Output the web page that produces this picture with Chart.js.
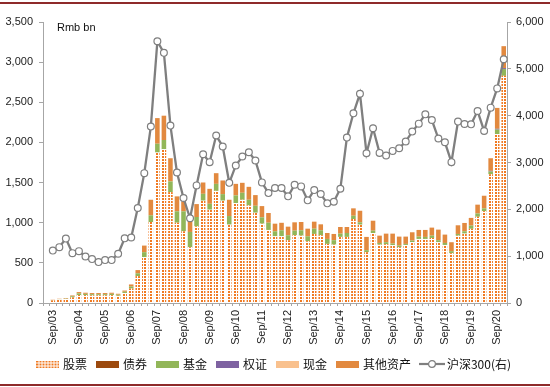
<!DOCTYPE html>
<html><head><meta charset="utf-8">
<script src="https://cdn.jsdelivr.net/npm/chart.js@4"></script>
<style>
html,body{margin:0;padding:0;background:#fff;}
#wrap{position:relative;width:550px;height:387px;overflow:hidden;}
#c{position:absolute;left:0;top:0;}
.rule{position:absolute;left:0;width:550px;height:2px;background:#8E2A2A;}
#unit{position:absolute;left:57px;top:21px;font:11px "Liberation Sans",Arial,sans-serif;color:#111;}
</style></head>
<body><div id="wrap"><canvas id="c" width="550" height="387"></canvas>
<div class="rule" style="top:2px"></div><div class="rule" style="top:384px"></div>
<div id="unit">Rmb bn</div></div>
<script>
const categories = ['Jun/03','Sep/03','Dec/03',
'Mar/04','Jun/04','Sep/04','Dec/04','Mar/05','Jun/05','Sep/05','Dec/05',
'Mar/06','Jun/06','Sep/06','Dec/06','Mar/07','Jun/07','Sep/07','Dec/07',
'Mar/08','Jun/08','Sep/08','Dec/08','Mar/09','Jun/09','Sep/09','Dec/09',
'Mar/10','Jun/10','Sep/10','Dec/10','Mar/11','Jun/11','Sep/11','Dec/11',
'Mar/12','Jun/12','Sep/12','Dec/12','Mar/13','Jun/13','Sep/13','Dec/13',
'Mar/14','Jun/14','Sep/14','Dec/14','Mar/15','Jun/15','Sep/15','Dec/15',
'Mar/16','Jun/16','Sep/16','Dec/16','Mar/17','Jun/17','Sep/17','Dec/17',
'Mar/18','Jun/18','Sep/18','Dec/18','Mar/19','Jun/19','Sep/19','Dec/19',
'Mar/20','Jun/20','Sep/20','Dec/20'];

// Rmb bn (left axis)
const stocks = [null,32,45,52,70,100,98,95,96,96,98,90,125,180,335,571,1009,1874,1915,1381,1000,893,695,955,
1274,1162,1397,1274,976,1245,1286,1216,1124,988,910,831,831,782,844,839,769,860,844,736,727,823,823,
1046,975,633,872,727,732,720,695,723,757,798,798,810,757,723,620,839,864,924,1074,1144,1603,2105,2829];
const bonds = [null,0,0,0,0,0,0,0,0,0,0,0,0,0,0,0,0,0,0,0,0,0,0,0,0,0,0,0,0,0,0,0,0,0,0,0,0,0,0,0,0,0,0,0,0,
0,0,0,0,0,0,0,0,0,0,0,0,0,0,0,0,0,0,0,0,0,0,0,0,0,0];
const funds = [null,3,3,4,14,20,16,15,14,14,16,13,15,25,35,62,83,110,115,133,142,249,190,116,
86,74,87,82,107,95,87,70,87,79,90,62,75,62,57,67,62,66,62,62,55,41,49,
41,30,25,29,21,25,20,20,13,20,29,25,29,25,25,25,21,29,40,41,35,35,55,85];
const warrants = [null,0,0,0,0,0,0,0,0,0,0,0,0,0,0,0,0,0,0,0,0,0,0,0,0,0,0,0,0,0,0,0,0,0,0,0,0,0,0,0,0,0,0,0,0,
0,0,0,0,0,0,0,0,0,0,0,0,0,0,0,0,0,0,0,0,0,0,0,8,10,12];
const cash = [null,0,0,0,0,0,0,0,0,0,0,0,0,0,0,0,0,0,0,0,0,0,0,0,0,0,0,0,0,0,0,0,0,0,0,0,0,0,0,0,0,0,0,0,0,
0,0,0,0,0,0,0,0,0,0,0,0,0,0,0,0,0,0,0,0,0,0,0,0,0,0];
const others = [null,5,5,6,10,16,14,14,14,14,14,12,15,26,40,82,194,319,303,289,186,124,133,161,
141,186,133,170,203,144,124,161,133,140,121,95,93,107,104,103,95,87,74,74,78,83,75,
92,144,165,124,91,107,124,112,91,104,83,87,100,132,104,112,108,104,96,110,157,157,260,273];
// CSI 300 index (right axis)
const hs300 = [null,1119,1192,1375,1064,1107,992,937,873,916,916,1051,1380,1400,2028,2773,3767,5588,5341,
3788,2788,2241,1809,2511,3177,3007,3575,3341,2566,2937,3128,3220,3043,2575,2347,2454,2454,2277,2524,
2490,2192,2411,2326,2128,2162,2439,3532,4050,4469,3198,3730,3205,3149,3248,3305,3447,3660,3830,4028,
3907,3511,3432,3007,3873,3822,3815,4099,3673,4171,4582,5205];
const leftTicks = [0,500,1000,1500,2000,2500,3000,3500];
const rightTicks = [0,1000,2000,3000,4000,5000,6000];
const seriesNames = ['股票','债券','基金','权证','现金','其他资产','沪深300(右)'];

const ORANGE = '#F07A22';
function dotPattern(){
  const t=document.createElement('canvas'); t.width=3; t.height=3;
  const g=t.getContext('2d'); g.fillStyle='#fff'; g.fillRect(0,0,3,3);
  g.fillStyle=ORANGE; g.fillRect(0,0,2,2);
  return document.getElementById('c').getContext('2d').createPattern(t,'repeat');
}
const stockFill = dotPattern();
const colors = [stockFill,'#9C4A0E','#92B659','#7E62A1','#F9C18E','#E2893F'];

function swatch(fill){
  const s=document.createElement('canvas'); s.width=23; s.height=7;
  const g=s.getContext('2d');
  if(fill===stockFill){ g.fillStyle='#fff'; g.fillRect(0,0,23,7);
    for(let x=0;x<23;x+=3)for(let y=0;y<7;y+=3){g.fillStyle=ORANGE; g.fillRect(x,y,2,2);} }
  else { g.fillStyle=fill; g.fillRect(0,0,23,7); }
  return s;
}
function lineSwatch(){
  const s=document.createElement('canvas'); s.width=26; s.height=10;
  const g=s.getContext('2d');
  g.strokeStyle='#7F7F7F'; g.lineWidth=2.2; g.beginPath(); g.moveTo(0,5); g.lineTo(26,5); g.stroke();
  g.fillStyle='#fff'; g.lineWidth=1.2; g.beginPath(); g.arc(13,5,3.4,0,Math.PI*2); g.fill(); g.stroke();
  return s;
}
const legendIcons = colors.map(swatch).concat([lineSwatch()]);

const barSets = [stocks,bonds,funds,warrants,cash,others].map((d,i)=>({
  type:'bar', label:seriesNames[i], data:d, backgroundColor:colors[i], borderWidth:0,
  yAxisID:'y', stack:'s', order:1, barPercentage:0.7, categoryPercentage:1.0
}));
const lineSet = {
  type:'line', label:seriesNames[6], data:hs300, yAxisID:'y1', order:0,
  borderColor:'#7F7F7F', borderWidth:2.3, pointRadius:3.4, pointBorderWidth:1.2,
  pointBackgroundColor:'#fff', pointBorderColor:'#7F7F7F', tension:0, spanGaps:false
};

const axisColor = '#A6A6A6';
const tickFont = {family:'"Liberation Sans", Arial, sans-serif', size:11};

new Chart(document.getElementById('c'), {
  data:{labels:categories, datasets:[...barSets, lineSet]},
  options:{
    responsive:false, animation:false, devicePixelRatio:1,
    layout:{padding:{top:22,left:0,right:0,bottom:7}},
    plugins:{
      tooltip:{enabled:false},
      legend:{
        position:'bottom',
        labels:{
          usePointStyle:true, pointStyleWidth:18, boxHeight:12, padding:12,
          color:'#111', font:{family:'"Noto Sans CJK SC", sans-serif', size:12},
          generateLabels(chart){
            return chart.data.datasets.map((ds,i)=>({
              text:ds.label, pointStyle:legendIcons[i], datasetIndex:i, hidden:false,
              fillStyle:'#fff', strokeStyle:'#fff', lineWidth:0, fontColor:'#111'
            }));
          }
        }
      }
    },
    scales:{
      x:{
        stacked:true,
        grid:{display:true, drawOnChartArea:false, offset:true, tickLength:3, color:axisColor},
        border:{display:true, color:axisColor, width:1},
        ticks:{autoSkip:false, minRotation:90, maxRotation:90, padding:4, color:'#222', font:tickFont,
          callback:(v,i)=> (i%4===1 ? categories[i] : '')},
        afterFit(s){ s.height = 43; }
      },
      y:{
        stacked:true, position:'left', min:0, max:3500,
        afterBuildTicks(s){ s.ticks = leftTicks.map(v=>({value:v})); },
        grid:{display:true, drawOnChartArea:false, tickLength:4, color:axisColor},
        border:{display:true, color:axisColor, width:1},
        ticks:{padding:6, color:'#222', font:tickFont, callback:v=>v.toLocaleString('en-US')},
        afterFit(s){ s.width = 43; }
      },
      y1:{
        position:'right', min:0, max:6000,
        afterBuildTicks(s){ s.ticks = rightTicks.map(v=>({value:v})); },
        grid:{display:true, drawOnChartArea:false, tickLength:4, color:axisColor},
        border:{display:true, color:axisColor, width:1},
        ticks:{padding:5, color:'#222', font:tickFont, callback:v=>v.toLocaleString('en-US')},
        afterFit(s){ s.width = 43; }
      }
    }
  }
});
</script>
</body></html>
